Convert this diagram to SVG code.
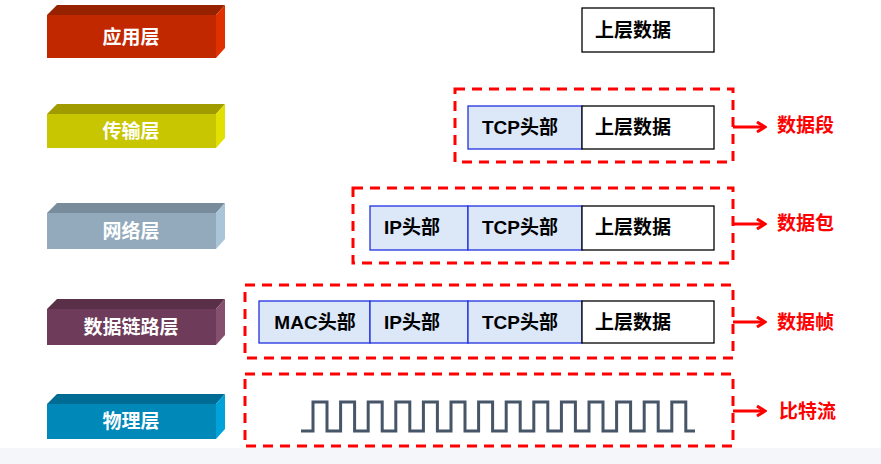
<svg xmlns="http://www.w3.org/2000/svg" width="881" height="464" viewBox="0 0 881 464">
<style>
.lbl{font-family:"Liberation Sans","Noto Sans CJK SC",sans-serif;font-weight:bold;font-size:19px;fill:#fff;text-anchor:middle;dominant-baseline:central}
.t{font-family:"Liberation Sans","Noto Sans CJK SC",sans-serif;font-weight:bold;font-size:19px;fill:#000;text-anchor:middle;dominant-baseline:central}
.r{font-family:"Liberation Sans","Noto Sans CJK SC",sans-serif;font-weight:bold;font-size:19px;fill:#f00;dominant-baseline:central}
.hdr{fill:#dce7f8;stroke:#2030e0;stroke-width:1.3}
.dat{fill:#fff;stroke:#000;stroke-width:1.3}
.dash{fill:none;stroke:#f00;stroke-width:3;stroke-dasharray:10 7}
.arr{fill:none;stroke:#f00;stroke-width:3}
</style>
<defs>
<marker id="ah" viewBox="0 0 12 12" refX="10" refY="6" markerWidth="12" markerHeight="12" markerUnits="userSpaceOnUse" orient="auto">
<path d="M2,1 L10,6 L2,11" fill="none" stroke="#f00" stroke-width="3"/>
</marker>
</defs>
<rect width="881" height="464" fill="#fff"/>
<rect y="448" width="881" height="16" fill="#f5f6f9"/>

<g id="app">
<polygon points="47,15 57,5 225,5 216,15" fill="#962200"/>
<polygon points="216,15 225,5 225,48 216,58" fill="#e03000"/>
<rect x="47" y="15" width="169" height="43" fill="#c22800"/>
<text class="lbl" x="131" y="37">应用层</text>
</g>
<g id="transport">
<polygon points="47,114 57,104 225,104 216,114" fill="#a09c00"/>
<polygon points="216,114 225,104 225,138 216,148" fill="#e2e000"/>
<rect x="47" y="114" width="169" height="34" fill="#c8c600"/>
<text class="lbl" x="131" y="131">传输层</text>
</g>
<g id="network">
<polygon points="47,213 57,203 225,203 216,213" fill="#788c9b"/>
<polygon points="216,213 225,203 225,239 216,249" fill="#aac4d8"/>
<rect x="47" y="213" width="169" height="36" fill="#93aabc"/>
<text class="lbl" x="131" y="231">网络层</text>
</g>
<g id="datalink">
<polygon points="47,309 57,299 225,299 216,309" fill="#5a3049"/>
<polygon points="216,309 225,299 225,335 216,345" fill="#854f6e"/>
<rect x="47" y="309" width="169" height="36" fill="#6e3c5a"/>
<text class="lbl" x="131" y="327">数据链路层</text>
</g>
<g id="physical">
<polygon points="47,404 57,394 225,394 216,404" fill="#006c94"/>
<polygon points="216,404 225,394 225,429 216,439" fill="#00a2da"/>
<rect x="47" y="404" width="169" height="35" fill="#0088b8"/>
<text class="lbl" x="131" y="421">物理层</text>
</g>

<g id="row-app">
<rect class="dat" x="582" y="8" width="132" height="44"/>
<text class="t" x="633" y="30">上层数据</text>
</g>
<g id="row-transport">
<rect class="dash" x="455" y="89" width="278" height="73"/>
<rect class="hdr" x="468" y="106" width="114" height="43"/>
<text class="t" x="520" y="127">TCP头部</text>
<rect class="dat" x="582" y="106" width="132" height="43"/>
<text class="t" x="633" y="127">上层数据</text>
<text class="r" x="777" y="125">数据段</text>
</g>
<g id="row-network">
<rect class="dash" x="353" y="188" width="380" height="75"/>
<rect class="hdr" x="370" y="206" width="98" height="44"/>
<text class="t" x="412" y="227">IP头部</text>
<rect class="hdr" x="468" y="206" width="114" height="44"/>
<text class="t" x="520" y="227">TCP头部</text>
<rect class="dat" x="582" y="206" width="132" height="44"/>
<text class="t" x="633" y="227">上层数据</text>
<text class="r" x="777" y="223">数据包</text>
</g>
<g id="row-datalink">
<rect class="dash" x="245" y="285" width="488" height="73"/>
<rect class="hdr" x="259" y="301" width="111" height="42"/>
<text class="t" x="315" y="322">MAC头部</text>
<rect class="hdr" x="370" y="301" width="98" height="42"/>
<text class="t" x="412" y="322">IP头部</text>
<rect class="hdr" x="468" y="301" width="114" height="42"/>
<text class="t" x="520" y="322">TCP头部</text>
<rect class="dat" x="582" y="301" width="132" height="42"/>
<text class="t" x="633" y="322">上层数据</text>
<text class="r" x="777" y="322">数据帧</text>
</g>
<g id="row-physical">
<rect class="dash" x="245" y="374" width="488" height="72"/>
<path d="M301,431 H313 V402 H327 V431 H340.6 V402 H354.6 V431 H368.2 V402 H382.2 V431 H395.8 V402 H409.8 V431 H423.4 V402 H437.4 V431 H451 V402 H465 V431 H478.6 V402 H492.6 V431 H506.2 V402 H520.2 V431 H533.8 V402 H547.8 V431 H561.4 V402 H575.4 V431 H589 V402 H603 V431 H616.6 V402 H630.6 V431 H644.2 V402 H658.2 V431 H671.8 V402 H685.8 V431 H695" fill="none" stroke="#475569" stroke-width="3"/>
<text class="r" x="779" y="411">比特流</text>
</g>

<g id="connectors">
<line class="arr" x1="733" y1="127" x2="765" y2="127" marker-end="url(#ah)"/>
<line class="arr" x1="733" y1="224" x2="765" y2="224" marker-end="url(#ah)"/>
<line class="arr" x1="733" y1="322" x2="765" y2="322" marker-end="url(#ah)"/>
<line class="arr" x1="733" y1="411" x2="765" y2="411" marker-end="url(#ah)"/>
</g>
</svg>
